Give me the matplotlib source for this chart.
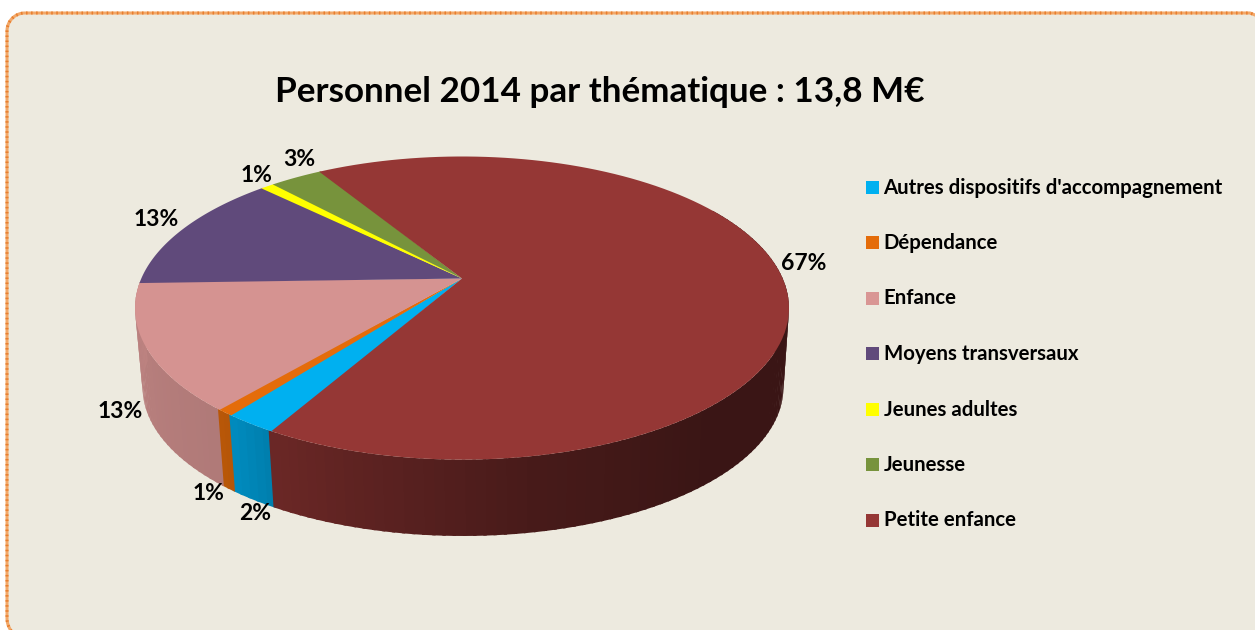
# 3D look pie of the 2014 staff budget, the rim is drawn with perspective by hand

import numpy as np
import matplotlib
matplotlib.use("Agg")
import matplotlib.pyplot as plt
from matplotlib.patches import Rectangle

title = "Personnel 2014 par thématique : 13,8 M€"
categories = ["Autres dispositifs d'accompagnement", "Dépendance", "Enfance",
              "Moyens transversaux", "Jeunes adultes", "Jeunesse", "Petite enfance"]
values = [2.3, 0.7, 13.4, 12.9, 0.8, 3.1, 66.8]
colors = ["#00B0F0", "#E46C0A", "#D99694", "#604A7B", "#FFFF00", "#77933C", "#953735"]
label_x = [255, 208, 120, 156, 257, 299, 804]
label_y = [513, 493, 412, 219, 175, 160, 263]

# side shading, clockwise angle from the top against brightness
shade_angle = [60, 100, 140, 170, 210, 215, 220, 270, 300]
shade_value = [0.39, 0.39, 0.39, 0.48, 0.72, 0.77, 0.81, 0.87, 0.87]

plt.rcParams['font.family'] = ['Lato', 'DejaVu Sans']

fig = plt.figure(figsize=(12.55, 6.3), dpi=100)
ax = fig.add_axes([0, 0, 1, 1])
ax.set_xlim(0, 1255)
ax.set_ylim(630, 0)
ax.axis('off')

# frame, runs off the picture at the right and at the bottom
t = np.radians(np.linspace(0, 90, 30))
frame_x = np.r_[29 - 22 * np.cos(t[:17])[::-1], 25 - 18 * np.cos(t), 1250, 1255]
frame_y = np.r_[618 + 22 * np.sin(t[:17])[::-1], 31 - 18 * np.sin(t), 13, 15]
ax.fill(np.r_[frame_x, 1255, 11], np.r_[frame_y, 630, 630], color="#EDEADF", lw=0)
ax.plot(frame_x, frame_y, color="#F2A869", lw=2.2)
ax.plot(frame_x, frame_y, color="#E87E2E", lw=2.2, ls=(0, (0.5, 1.15)))

P = 0.195

def rim(angle, scale=1.0, cx=462.0, cy=278.5):
	# angle in degrees clockwise from the top of the pie
	a = np.radians(angle)
	u = np.sin(a)
	v = np.cos(a)
	d = 1 + P * v
	return cx + scale * 320.7 * u / d, cy - scale * 145.8 * v / d

def shaded(color, f):
	r, g, b = matplotlib.colors.to_rgb(color)
	return (r * f, g * f, b * f)

# blue slice ends where the red one begins its sweep backwards
start = -30.9 + values[-1] * 3.6
edges = start + np.cumsum([0] + values) * 3.6

# side first, the top face covers what it must
for i in range(len(values)):
	a0 = edges[i]
	a1 = edges[i + 1]
	steps = max(2, int((a1 - a0) / 1.5))
	aa = np.linspace(a0, a1, steps + 1)
	for j in range(steps):
		m = ((aa[j] + aa[j + 1]) / 2) % 360
		if m < 60 or m > 268:
			continue
		x0, y0 = rim(aa[j])
		x1, y1 = rim(aa[j + 1] + 0.5)
		x2, y2 = rim(aa[j + 1] + 0.5, 0.98, 463, 358.5)
		x3, y3 = rim(aa[j], 0.98, 463, 358.5)
		c = shaded(colors[i], np.interp(m, shade_angle, shade_value))
		ax.fill([x0, x1, x2, x3], [y0, y1, y2, y3], color=c, lw=0)

# top face, each slice a bit wider so no background shows in the joins
for i in range(len(values)):
	aa = np.linspace(edges[i] - 0.4, edges[i + 1], 120)
	x, y = rim(aa)
	c = colors[i]
	if i == 2:
		c = shaded(c, 0.98)
	ax.fill(np.r_[462, x], np.r_[278.5, y], color=c, lw=0)

ax.text(600, 91.5, title, ha='center', va='center', fontsize=25.2, fontweight='bold', color='black')

for i in range(len(values)):
	ax.text(label_x[i], label_y[i], "%d%%" % round(values[i]), ha='center', va='center',
		fontsize=16.5, fontweight='bold', color='black')

for i in range(len(categories)):
	y = 187 + 55.5 * i
	ax.add_patch(Rectangle((866, y - 6.5), 13, 13, fc=colors[i], ec='none'))
	ax.text(883.5, y + 0.5, categories[i], ha='left', va='center', fontsize=14.7, fontweight='bold', color='black')

fig.savefig("out.png", dpi=100)
